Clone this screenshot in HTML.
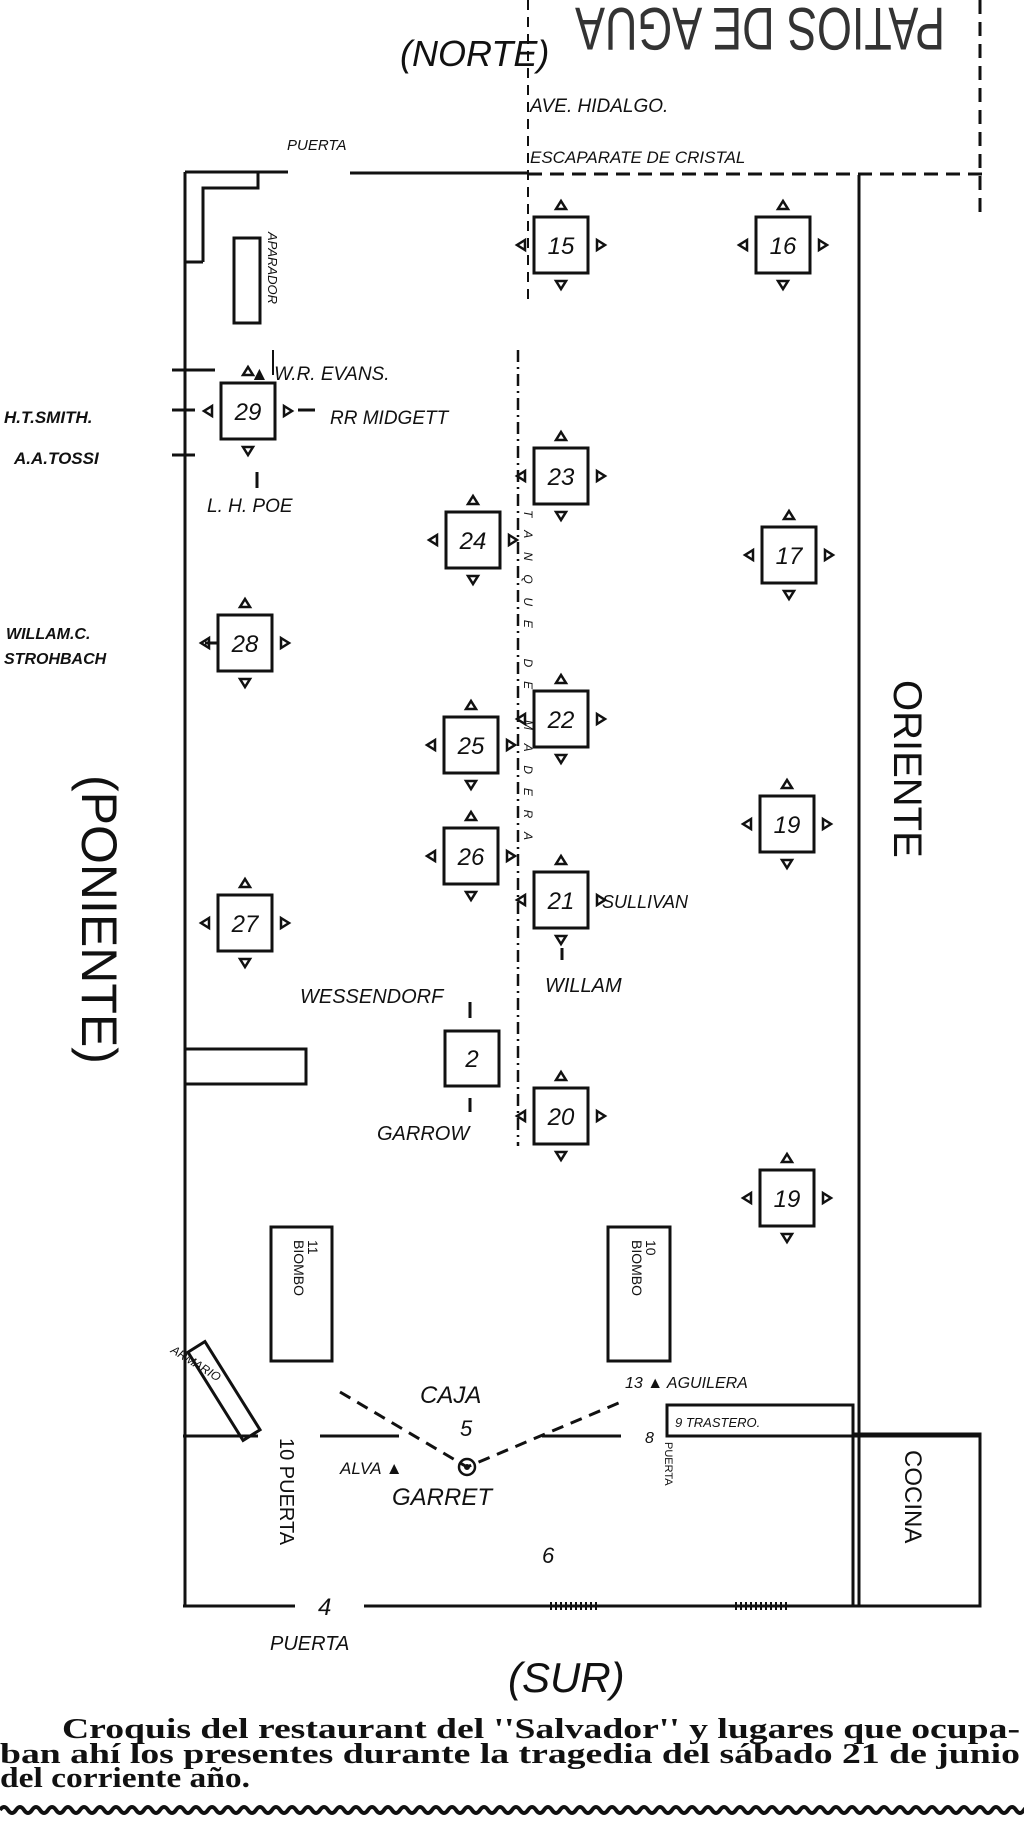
<!DOCTYPE html>
<html><head><meta charset="utf-8"><style>
html,body{margin:0;padding:0;background:#fff;}
svg{display:block;}
.l{font-family:"Liberation Sans",sans-serif;font-style:italic;fill:#111;}
.n{font-family:"Liberation Sans",sans-serif;font-style:italic;fill:#111;font-size:24px;text-anchor:middle;}
.cap{font-family:"Liberation Serif",serif;font-weight:bold;fill:#111;font-size:29px;}
</style></head><body>
<svg width="1024" height="1833" viewBox="0 0 1024 1833" xmlns="http://www.w3.org/2000/svg">
<defs>
<g id="t">
<rect x="-27" y="-28" width="54" height="56" fill="none" stroke="#111" stroke-width="3"/>
<path d="M-5,-36 L0,-44 L5,-36 Z M-5,36 L0,44 L5,36 Z M-36,-5 L-44,0 L-36,5 Z M36,-5 L44,0 L36,5 Z" fill="none" stroke="#111" stroke-width="2.5"/>
</g>
</defs>
<g stroke="#111" fill="none" stroke-width="3">
<path d="M185,172 V1606"/>
<path d="M185,172 H288 M350,173 H528"/>
<path d="M203,262 V188 H258 V172 M185,262 H203"/>
<path d="M528,174 H985" stroke-dasharray="14,8"/>
<path d="M528,0 V300" stroke-dasharray="10,7" stroke-width="2"/>
<path d="M980,0 V215" stroke-dasharray="14,8"/>
<path d="M859,175 V1606"/>
<rect x="234" y="238" width="26" height="85"/>
<path d="M273,375 V350" stroke-width="2"/>
<path d="M518,350 V1146" stroke-dasharray="12,5,2,5" stroke-width="2.5"/>
<rect x="185" y="1049" width="121" height="35"/>
<rect x="271" y="1227" width="61" height="134"/>
<rect x="608" y="1227" width="62" height="134"/>
<path d="M183,1436 H258 M320,1436 H399 M542,1436 H621 M667,1436 H980"/>
<rect x="667" y="1405" width="186" height="31"/>
<rect x="853" y="1434" width="127" height="172"/>
<g transform="translate(224,1391) rotate(-32)"><rect x="-10" y="-52" width="20" height="104"/></g>
<path d="M340,1392 L467,1467 L621,1402" stroke-dasharray="12,8"/>
<circle cx="467" cy="1467" r="8" stroke-width="2.5"/>
<circle cx="467" cy="1467" r="1.5" fill="#111"/>
<path d="M183,1606 H295 M364,1606 H853" />
<path d="M550,1606 H600 M735,1606 H788" stroke-width="8" stroke-dasharray="2,3"/>
<path d="M172,370 H215 M172,410 H195 M172,455 H195 M298,410 H315 M257,472 V488 M218,643 H205 M562,948 V960 M470,1098 V1112 M470,1018 V1002"/>
</g>
<use href="#t" x="561" y="245"/><text class="n" x="561" y="254">15</text>
<use href="#t" x="783" y="245"/><text class="n" x="783" y="254">16</text>
<use href="#t" x="248" y="411"/><text class="n" x="248" y="420">29</text>
<use href="#t" x="561" y="476"/><text class="n" x="561" y="485">23</text>
<use href="#t" x="473" y="540"/><text class="n" x="473" y="549">24</text>
<use href="#t" x="789" y="555"/><text class="n" x="789" y="564">17</text>
<use href="#t" x="245" y="643"/><text class="n" x="245" y="652">28</text>
<use href="#t" x="561" y="719"/><text class="n" x="561" y="728">22</text>
<use href="#t" x="471" y="745"/><text class="n" x="471" y="754">25</text>
<use href="#t" x="787" y="824"/><text class="n" x="787" y="833">19</text>
<use href="#t" x="471" y="856"/><text class="n" x="471" y="865">26</text>
<use href="#t" x="561" y="900"/><text class="n" x="561" y="909">21</text>
<use href="#t" x="245" y="923"/><text class="n" x="245" y="932">27</text>
<rect x="445" y="1031" width="54" height="55" fill="none" stroke="#111" stroke-width="3"/><text class="n" x="472" y="1067">2</text>
<use href="#t" x="561" y="1116"/><text class="n" x="561" y="1125">20</text>
<use href="#t" x="787" y="1198"/><text class="n" x="787" y="1207">19</text>
<text class="l" x="400" y="66" font-size="36">(NORTE)</text>
<text font-family="Liberation Sans,sans-serif" font-size="60" fill="#333" transform="translate(945,8) rotate(180)" textLength="370" lengthAdjust="spacingAndGlyphs">PATIOS DE AGUA</text>
<text class="l" x="530" y="112" font-size="19">AVE. HIDALGO.</text>
<text class="l" x="287" y="150" font-size="15">PUERTA</text>
<text class="l" x="530" y="163" font-size="17">ESCAPARATE DE CRISTAL</text>
<text class="l" font-size="13" transform="translate(268,232) rotate(90)">APARADOR</text>
<text class="l" x="250" y="380" font-size="19">▲ W.R. EVANS.</text>
<text class="l" x="4" y="423" font-size="17" font-weight="bold">H.T.SMITH.</text>
<text class="l" x="330" y="424" font-size="19">RR  MIDGETT</text>
<text class="l" x="14" y="464" font-size="17" font-weight="bold">A.A.TOSSI</text>
<text class="l" x="207" y="512" font-size="19">L. H. POE</text>
<text class="l" x="6" y="639" font-size="16" font-weight="bold">WILLAM.C.</text>
<text class="l" x="4" y="664" font-size="16" font-weight="bold">STROHBACH</text>
<text class="l" font-size="12" transform="translate(524,510) rotate(90)" textLength="330">TANQUE  DE    MADERA</text>
<text class="l" x="602" y="908" font-size="18">SULLIVAN</text>
<text class="l" x="300" y="1003" font-size="20">WESSENDORF</text>
<text class="l" x="545" y="992" font-size="20">WILLAM</text>
<text class="l" x="377" y="1140" font-size="20">GARROW</text>
<text font-family="Liberation Sans,sans-serif" font-size="40" fill="#111" transform="translate(894,680) rotate(90)">ORIENTE</text>
<text font-family="Liberation Sans,sans-serif" font-size="50" fill="#111" transform="translate(82,775) rotate(90)">(PONIENTE)</text>
<text font-family="Liberation Sans,sans-serif" font-size="14" fill="#111" transform="translate(308,1240) rotate(90)">11</text>
<text font-family="Liberation Sans,sans-serif" font-size="14" fill="#111" transform="translate(294,1240) rotate(90)">BIOMBO</text>
<text font-family="Liberation Sans,sans-serif" font-size="14" fill="#111" transform="translate(646,1240) rotate(90)">10</text>
<text font-family="Liberation Sans,sans-serif" font-size="14" fill="#111" transform="translate(632,1240) rotate(90)">BIOMBO</text>
<text class="l" font-size="12" transform="translate(170,1352) rotate(32)">ARMARIO</text>
<text class="l" x="420" y="1403" font-size="24">CAJA</text>
<text class="l" x="460" y="1436" font-size="22">5</text>
<text class="l" x="340" y="1474" font-size="17">ALVA ▲</text>
<text class="l" x="392" y="1505" font-size="24">GARRET</text>
<text class="l" x="542" y="1563" font-size="22">6</text>
<text class="l" x="625" y="1388" font-size="16">13 ▲ AGUILERA</text>
<text class="l" x="675" y="1427" font-size="13">9 TRASTERO.</text>
<text class="l" x="645" y="1443" font-size="16">8</text>
<text font-family="Liberation Sans,sans-serif" font-size="20" fill="#111" transform="translate(280,1438) rotate(90)">10 PUERTA</text>
<text font-family="Liberation Sans,sans-serif" font-size="11" fill="#111" transform="translate(665,1442) rotate(90)">PUERTA</text>
<text font-family="Liberation Sans,sans-serif" font-size="24" fill="#111" transform="translate(905,1450) rotate(90)">COCINA</text>
<text class="l" x="318" y="1615" font-size="24">4</text>
<text class="l" x="270" y="1650" font-size="20">PUERTA</text>
<text class="l" x="508" y="1692" font-size="42">(SUR)</text>
<text class="cap" x="62" y="1738" textLength="958" lengthAdjust="spacingAndGlyphs">Croquis del restaurant del ''Salvador'' y lugares que ocupa-</text>
<text class="cap" x="0" y="1763" textLength="1020" lengthAdjust="spacingAndGlyphs">ban ahí los presentes durante la tragedia del sábado 21 de junio</text>
<text class="cap" x="0" y="1787" textLength="250" lengthAdjust="spacingAndGlyphs">del corriente año.</text>
<path d="M0,1810 q4,-6 8,0 t8,0 t8,0 t8,0 t8,0 t8,0 t8,0 t8,0 t8,0 t8,0 t8,0 t8,0 t8,0 t8,0 t8,0 t8,0 t8,0 t8,0 t8,0 t8,0 t8,0 t8,0 t8,0 t8,0 t8,0 t8,0 t8,0 t8,0 t8,0 t8,0 t8,0 t8,0 t8,0 t8,0 t8,0 t8,0 t8,0 t8,0 t8,0 t8,0 t8,0 t8,0 t8,0 t8,0 t8,0 t8,0 t8,0 t8,0 t8,0 t8,0 t8,0 t8,0 t8,0 t8,0 t8,0 t8,0 t8,0 t8,0 t8,0 t8,0 t8,0 t8,0 t8,0 t8,0 t8,0 t8,0 t8,0 t8,0 t8,0 t8,0 t8,0 t8,0 t8,0 t8,0 t8,0 t8,0 t8,0 t8,0 t8,0 t8,0 t8,0 t8,0 t8,0 t8,0 t8,0 t8,0 t8,0 t8,0 t8,0 t8,0 t8,0 t8,0 t8,0 t8,0 t8,0 t8,0 t8,0 t8,0 t8,0 t8,0 t8,0 t8,0 t8,0 t8,0 t8,0 t8,0 t8,0 t8,0 t8,0 t8,0 t8,0 t8,0 t8,0 t8,0 t8,0 t8,0 t8,0 t8,0 t8,0 t8,0 t8,0 t8,0 t8,0 t8,0 t8,0 t8,0 t8,0 t8,0 t8,0 t8,0 t8,0 t8,0 t8,0 t8,0" fill="none" stroke="#111" stroke-width="4"/>
</svg>
</body></html>
